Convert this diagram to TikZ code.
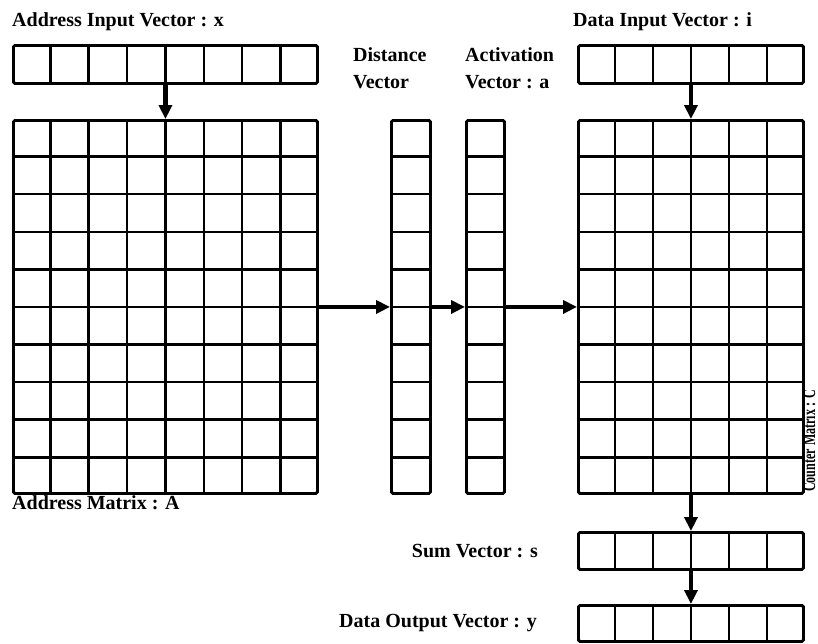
\documentclass[tikz,border=0pt]{standalone}
\usepackage{fontspec}
\setmainfont{Liberation Serif}
\usepackage{tikz}
\usetikzlibrary{calc}
\usetikzlibrary{%shapes,
positioning,arrows.meta%
}
\newcommand{\colsplit}[2]{% inner column borders of node #1 with #2 columns
  \pgfmathtruncatemacro{\lastk}{#2-1}
  \foreach \k in {1,...,\lastk}{
    \pgfmathsetmacro{\cfrac}{\k/#2}
    \draw[cellline] ($(#1.north west)!\cfrac!(#1.north east)$) -- ($(#1.south west)!\cfrac!(#1.south east)$);
  }}
\newcommand{\rowsplit}[2]{% inner row borders of node #1 with #2 rows
  \pgfmathtruncatemacro{\lastk}{#2-1}
  \foreach \k in {1,...,\lastk}{
    \pgfmathsetmacro{\cfrac}{\k/#2}
    \draw[cellline] ($(#1.north west)!\cfrac!(#1.south west)$) -- ($(#1.north east)!\cfrac!(#1.south east)$);
  }}

\begin{document}
\begin{tikzpicture}[x=1pt, y=-1pt,
  cellbox/.style={draw, line width=2.9pt, rounded corners=1.5pt, inner sep=0pt, anchor=north west},
  cellline/.style={line width=2.5pt},
  flow/.style={line width=4.8pt, -{Triangle[length=14pt, width=13pt]}},
  lbl/.style={inner sep=0pt, font=\bfseries\fontsize{20}{27}\selectfont}]
\useasboundingbox (0, 0) rectangle (818, 643);

\node[cellbox, minimum width=304pt, minimum height=38pt] (AddrIn) at (12, 44) {}; % address input x
\node[cellbox, minimum width=304pt, minimum height=373pt] (AddrMat) at (12, 119) {}; % address matrix A
\node[cellbox, minimum width=39pt, minimum height=373pt] (DistVec) at (390, 119) {}; % distances
\node[cellbox, minimum width=38pt, minimum height=373pt] (ActVec) at (465, 119) {}; % activation a
\node[cellbox, minimum width=225pt, minimum height=38pt] (DataIn) at (577, 44) {}; % data input i
\node[cellbox, minimum width=225pt, minimum height=373pt] (CntMat) at (577, 119) {}; % counter matrix C
\node[cellbox, minimum width=225pt, minimum height=37pt] (SumVec) at (577, 531) {}; % sums s
\node[cellbox, minimum width=225pt, minimum height=36pt] (DataOut) at (577, 604) {}; % data output y

\colsplit{AddrIn}{8}
\colsplit{AddrMat}{8}
\rowsplit{AddrMat}{10}
\rowsplit{DistVec}{10}
\rowsplit{ActVec}{10}
\colsplit{DataIn}{6}
\colsplit{CntMat}{6}
\rowsplit{CntMat}{10}
\colsplit{SumVec}{6}
\colsplit{DataOut}{6}

\draw[flow] (AddrIn.south) -- (AddrMat.north);
\draw[flow] (AddrMat.east) -- (DistVec.west);
\draw[flow] (DistVec.east) -- (ActVec.west);
\draw[flow] (ActVec.east) -- (CntMat.west);
\draw[flow] (DataIn.south) -- (CntMat.north);
\draw[flow] (CntMat.south) -- (SumVec.north);
\draw[flow] (SumVec.south) -- (DataOut.north);

\node[lbl, anchor=west] (AddrInLbl) at (12, 22) {Address Input Vector : x};
\node[lbl, anchor=north west, align=left] (DistLbl) at (353, 47) {Distance \\ Vector};
\node[lbl, anchor=north west, align=left] (ActLbl) at (465, 47) {Activation \\ Vector : a};
\node[lbl, anchor=west] (DataInLbl) at (573, 22) {Data Input Vector : i};
\node[lbl, anchor=west] (AddrMatLbl) at (12, 503) {Address Matrix : A};
\node[lbl, left=39pt of {SumVec.west}] (SumLbl) {Sum Vector : s};
\node[lbl, left=40pt of {DataOut.west}] (DataOutLbl) {Data Output Vector : y};
\node[lbl, font=\bfseries\fontsize{18}{20}\selectfont, rotate=90, xscale=0.67, anchor=base west] (CntLbl) at (815, 492) {Counter Matrix : C};
\end{tikzpicture}
\end{document}
